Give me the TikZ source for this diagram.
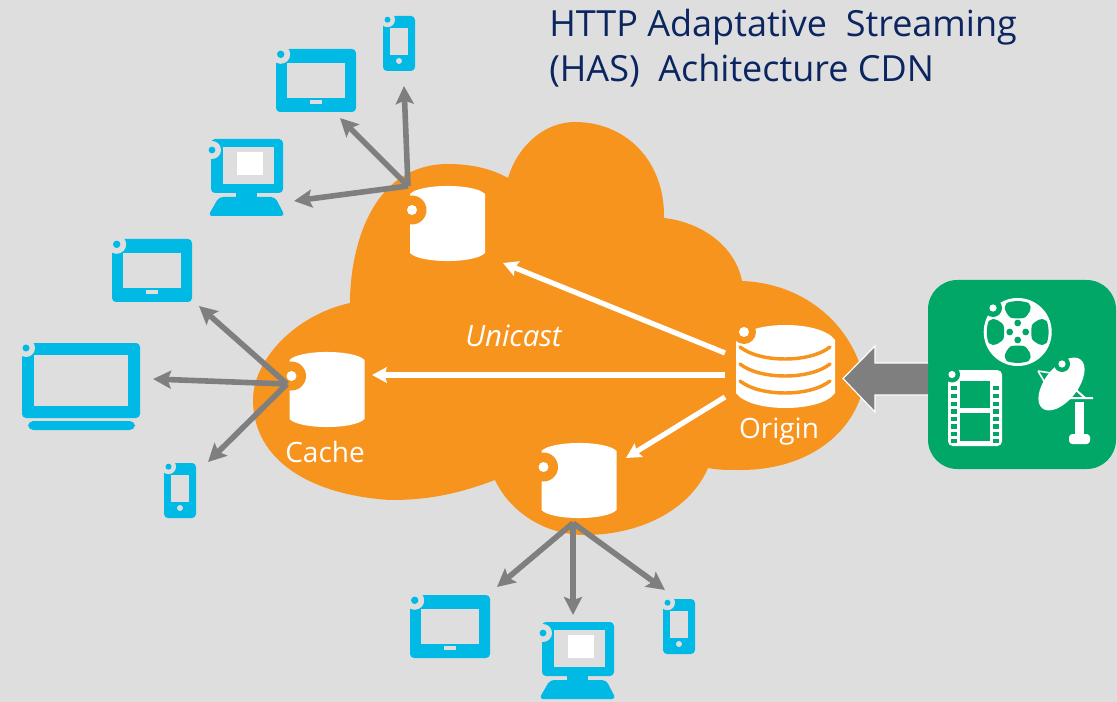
\documentclass[tikz,border=0pt]{standalone}
\usepackage{fontspec}
\setmainfont{Open Sans}
\usetikzlibrary{arrows.meta}
\definecolor{bgc}{HTML}{DEDEDE}
\definecolor{orng}{HTML}{F7941E}
\definecolor{cyn}{HTML}{00B9E4}
\definecolor{grn}{HTML}{00A767}
\definecolor{gry}{HTML}{7F7F7F}
\definecolor{navy}{HTML}{0B2560}
\tikzset{
  grayarrow/.style={draw=gry,line width=4.2pt,-{Stealth[length=13.5pt,width=13.5pt,inset=2.5pt]}},
  whitearrow/.style={draw=white,line width=3.9pt,-{Stealth[length=11pt,width=11.5pt,inset=1.5pt]}},
  lbl/.style={text=white,font=\fontsize{21}{25}\selectfont,inner sep=0pt},
  titletext/.style={text=navy,font=\fontsize{27}{33}\selectfont,inner sep=0pt,anchor=base west},
  tablet/.pic={
    \fill[cyn,rounded corners=3pt] (0,0) rectangle (80,63);
    \fill[bgc] (11,14) rectangle (69,49);
    \fill[bgc] (34,51) rectangle (46,55);
    \fill[bgc] (4.7,5.3) circle[radius=9.5];
    \fill[cyn] (4.7,5.3) circle[radius=3.7];
  },
  phone/.pic={
    \fill[cyn,rounded corners=3pt] (0,0) rectangle (32,55);
    \fill[bgc] (7,12) rectangle (25,39);
    \fill[bgc] (16,45) circle[radius=3];
    \fill[bgc] (4.5,3.7) circle[radius=7.5];
    \fill[cyn] (4.5,3.7) circle[radius=3];
  },
  desktop/.pic={
    \fill[cyn,rounded corners=3pt] (0,0) rectangle (72,54);
    \fill[bgc] (12,8) rectangle (63,45);
    \fill[white] (26,13) rectangle (52,36);
    \fill[cyn] (25,54) rectangle (46,59);
    \fill[cyn,rounded corners=3pt] (8,58) -- (64,58) -- (74,77) -- (-3,77) -- cycle;
    \fill[bgc] (1,11) circle[radius=9];
    \fill[cyn] (1,11) circle[radius=3.4];
  },
  laptop/.pic={
    \fill[cyn,rounded corners=3pt] (0,0) rectangle (118,75);
    \fill[bgc] (12,12) rectangle (106,63);
    \fill[cyn,rounded corners=4pt] (6,78) rectangle (113,87);
    \fill[bgc] (4,5) circle[radius=9];
    \fill[cyn] (4,5) circle[radius=3.5];
  },
  cachecan/.pic={
    \fill[white] (0,8) .. controls (10,-2.7) and (65,-2.7) .. (75,8) -- (75,67)
      .. controls (65,77.7) and (10,77.7) .. (0,67) -- cycle;
    \fill[orng] (2,24) circle[radius=14.5];
    \fill[white] (2,24) circle[radius=5];
  },
  filmlobe/.pic={
    \fill[grn] (-11,-29) .. controls (-5,-31.5) and (5,-31.5) .. (11,-29)
      .. controls (16,-25) and (10,-15) .. (6,-14)
      .. controls (3,-13.5) and (-3,-13.5) .. (-6,-14)
      .. controls (-10,-15) and (-16,-25) .. (-11,-29) -- cycle;
  },
}
\begin{document}
\begin{tikzpicture}[x=0.75pt,y=-0.75pt]
\useasboundingbox (0,0) rectangle (1117,702);
\fill[bgc] (0,0) rectangle (1117,702);

% cloud
\fill[orng] (350,303) .. controls (350,250) and (370,165) .. (447,164)
  .. controls (470,164) and (490,168) .. (508,178)
  .. controls (518,145) and (545,122) .. (575,122)
  .. controls (625,122) and (665,160) .. (664,218)
  .. controls (700,222) and (735,245) .. (742,281)
  .. controls (800,283) and (850,320) .. (864,378)
  .. controls (862,420) and (820,470) .. (740,470)
  .. controls (728,470) and (718,470) .. (708,468)
  .. controls (690,510) and (640,535) .. (585,535)
  .. controls (545,535) and (510,512) .. (495,480)
  .. controls (450,497) and (420,500) .. (390,500)
  .. controls (310,495) and (253,460) .. (253,400)
  .. controls (253,360) and (295,315) .. (350,303) -- cycle;

% title
\node[titletext] (title1) at (549,37) {HTTP Adaptative\ \ Streaming};
\node[titletext] (title2) at (549,82) {(HAS)\ \ Achitecture CDN};

% devices
\pic (tabA) at (276,49) {tablet};
\pic (phoA) at (383,16) {phone};
\pic (deskA) at (211,139) {desktop};
\pic (tabB) at (112,239) {tablet};
\pic (lapB) at (22,343) {laptop};
\pic (phoB) at (164,463) {phone};
\pic (tabC) at (410,595) {tablet};
\pic (deskC) at (542,622) {desktop};
\pic (phoC) at (663,599) {phone};

% caches
\pic (cacheA) at (410,186) {cachecan};
\pic (cacheB) at (289.5,352) {cachecan};
\pic (cacheC) at (541.5,443) {cachecan};

% origin
\fill[white] (736,340) .. controls (750,320) and (821,320) .. (835,340) -- (835,393)
  .. controls (821,413) and (750,413) .. (736,393) -- cycle;
\foreach \yy in {347,364,381}
  \draw[orng,line width=2.6pt,line cap=round] (740,\yy) .. controls (760,\yy+16) and (810,\yy+16) .. (830,\yy);
\fill[orng] (744,332) circle[radius=12];
\fill[white] (744,332) circle[radius=5];

% labels
\node[lbl] (cachelbl) at (325,452) {Cache};
\node[lbl] (originlbl) at (779,432) {Origin};
\node[lbl,font=\fontsize{22}{26}\selectfont\itshape] (unicast) at (513.5,336) {Unicast};

% connector anchors
\coordinate (hubA) at (408,186);
\coordinate (hubB) at (287,384);
\coordinate (hubC) at (573,523);
\coordinate (endA1) at (404,86);
\coordinate (endA2) at (340,118);
\coordinate (endA3) at (294,201);
\coordinate (endB1) at (199,306);
\coordinate (endB2) at (153,379);
\coordinate (endB3) at (208,462);
\coordinate (endC1) at (497,587);
\coordinate (endC2) at (573,615);
\coordinate (endC3) at (665,590);
\coordinate (orgA) at (725,353);
\coordinate (orgB) at (725,375);
\coordinate (orgC) at (725,397);
\coordinate (inA) at (503,263);
\coordinate (inB) at (372,375);
\coordinate (inC) at (626,458);

\draw[grayarrow] (hubA) -- (endA1);
\draw[grayarrow] (hubA) -- (endA2);
\draw[grayarrow] (hubA) -- (endA3);
\draw[grayarrow] (hubB) -- (endB1);
\draw[grayarrow] (hubB) -- (endB2);
\draw[grayarrow] (hubB) -- (endB3);
\draw[grayarrow] (hubC) -- (endC1);
\draw[grayarrow] (hubC) -- (endC2);
\draw[grayarrow] (hubC) -- (endC3);
\draw[whitearrow] (orgA) -- (inA);
\draw[whitearrow] (orgB) -- (inB);
\draw[whitearrow] (orgC) -- (inC);

% green box
\fill[grn,rounded corners=22pt] (928,280) rectangle (1116,469);

% big arrow
\draw[white,line width=0.9pt,fill=gry] (928,363) -- (875,363) -- (875,346) -- (843,378.5) -- (875,412) -- (875,395) -- (928,395);

% reel
\fill[white] (1017.7,332) circle[radius=34];
\foreach \a in {0,90,180,270}
  \pic[rotate=\a,transform shape] at (1017.7,332) {filmlobe};
\foreach \dx/\dy in {0/-9,0/8,-8/0,8/0}
  \fill[grn] (1017.7+\dx,332+\dy) circle[radius=3.4];
\fill[grn] (993,308) circle[radius=9];
\fill[white] (993,308) circle[radius=3.6];

% film
\fill[white,rounded corners=3.5pt] (948,370) rectangle (1002,446);
\fill[grn] (960,381) rectangle (990,408);
\fill[grn] (960,413) rectangle (990,441);
\foreach \yy in {388,396,404,411.5,419,426.5,434,441}{
  \fill[grn] (951,\yy-2.5) rectangle (957,\yy+2);
  \fill[grn] (993,\yy-2.5) rectangle (999,\yy+2);
}
\fill[grn] (952,374.5) circle[radius=8];
\fill[white] (952,374.5) circle[radius=3.6];

% dish
\draw[white,line width=1.2pt] (1038,371) -- (1051,373) (1038,371) -- (1047,386);
\draw[white,line width=1.5pt] (1076,390) -- (1085,398) (1070,398) -- (1093,398);
\fill[white] (1075,402) rectangle (1084,438);
\fill[white,rounded corners=2.5pt] (1069,434) rectangle (1090,444);
\fill[white,rotate around={52:(1061.5,384)}] (1061.5,384) ellipse[x radius=31,y radius=16.5];
\fill[grn] (1062,364) circle[radius=8];
\fill[white] (1062,364) circle[radius=3.6];
\end{tikzpicture}
\end{document}
